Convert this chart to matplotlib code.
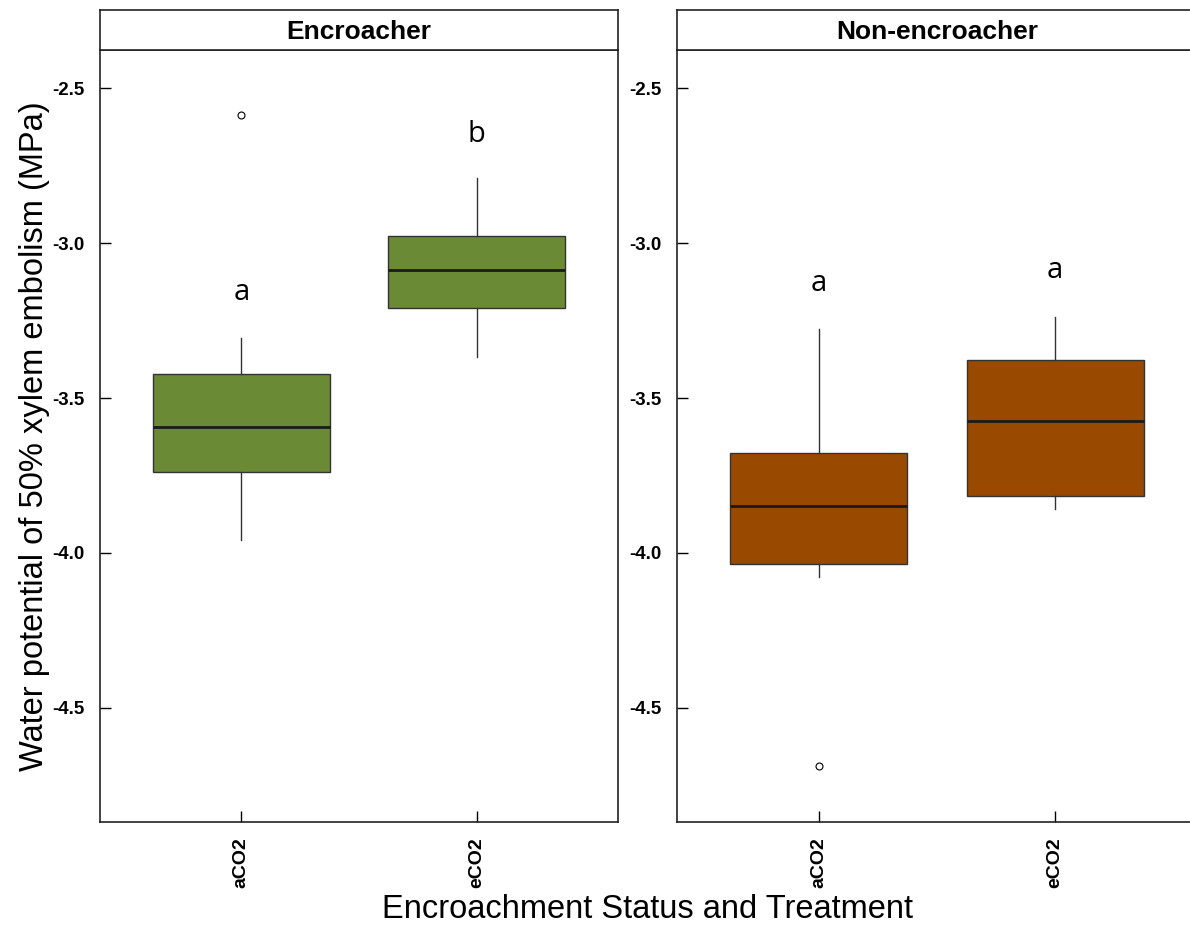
import matplotlib.pyplot as plt

plt.rcParams['font.family'] = ['Liberation Sans', 'DejaVu Sans']

# panels and treatments
panels = ['Encroacher', 'Non-encroacher']
treatments = ['aCO2', 'eCO2']
panel_colors = ['#6B8A35', '#9A4A00']

# five-number summaries per panel: [aCO2, eCO2]
whislo = [[-3.958, -3.368], [-4.077, -3.858]]
q1 = [[-3.739, -3.210], [-4.035, -3.816]]
med = [[-3.594, -3.087], [-3.848, -3.574]]
q3 = [[-3.423, -2.977], [-3.677, -3.377]]
whishi = [[-3.306, -2.790], [-3.277, -3.239]]
fliers = [[[-2.587], []], [[-4.687], []]]

# significance letters and their heights
letters = [['a', 'b'], ['a', 'a']]
letter_y = [[-3.16, -2.65], [-3.13, -3.09]]

fig = plt.figure(figsize=(11.9, 9.26), dpi=100)

W, H = 1190, 926
panel_left = [100, 677]
panel_width = 520
ax_top, ax_bottom, strip_top = 50, 822, 10

for i, name in enumerate(panels):
    x0 = panel_left[i] / W
    w = (panel_width - (2 if i == 0 else 0)) / W
    ax = fig.add_axes([x0, (H - ax_bottom) / H, w, (ax_bottom - ax_top) / H])
    stats = []
    for j, t in enumerate(treatments):
        stats.append(dict(label=t, whislo=whislo[i][j], q1=q1[i][j], med=med[i][j],
                          q3=q3[i][j], whishi=whishi[i][j], fliers=fliers[i][j]))
    ax.bxp(stats, positions=[1, 2], widths=0.75, showcaps=False, patch_artist=True,
           boxprops=dict(facecolor=panel_colors[i], edgecolor='#333333', linewidth=1),
           medianprops=dict(color='#1a1a1a', linewidth=2),
           whiskerprops=dict(color='#333333', linewidth=1),
           flierprops=dict(marker='o', markersize=5, markerfacecolor='white',
                           markeredgecolor='black', markeredgewidth=0.8))
    for j in range(2):
        ax.text(j + 1, letter_y[i][j], letters[i][j], ha='center', va='center',
                fontsize=21, family=['Open Sans', 'DejaVu Sans'])
    ax.set_xlim(0.4, 2.6)
    ax.set_ylim(-4.868, -2.377)
    ax.set_yticks([-2.5, -3.0, -3.5, -4.0, -4.5])
    ax.set_yticklabels(['-2.5', '-3.0', '-3.5', '-4.0', '-4.5'], fontweight='bold', fontsize=13.5)
    ax.set_xticks([1, 2])
    ax.set_xticklabels(treatments, rotation=90, fontweight='bold', fontsize=14)
    ax.tick_params(axis='both', direction='in', length=8, width=1, pad=11)
    for s in ax.spines.values():
        s.set_linewidth(1.2)
        s.set_color('#222222')

    # strip header
    sax = fig.add_axes([x0, (H - ax_top) / H, w, (ax_top - strip_top) / H])
    sax.set_xticks([])
    sax.set_yticks([])
    for s in sax.spines.values():
        s.set_linewidth(1.2)
        s.set_color('#222222')
    sax.text(0.5, 0.45, name, ha='center', va='center', fontsize=19, fontweight='bold',
             transform=sax.transAxes)

fig.text(35 / W, 1 - 436 / H, 'Water potential of 50% xylem embolism (MPa)',
         rotation=90, ha='center', va='center', fontsize=23.5)
fig.text(648 / W, 1 - 910 / H, 'Encroachment Status and Treatment',
         ha='center', va='center', fontsize=23.5)

fig.savefig('out.png', dpi=100)
